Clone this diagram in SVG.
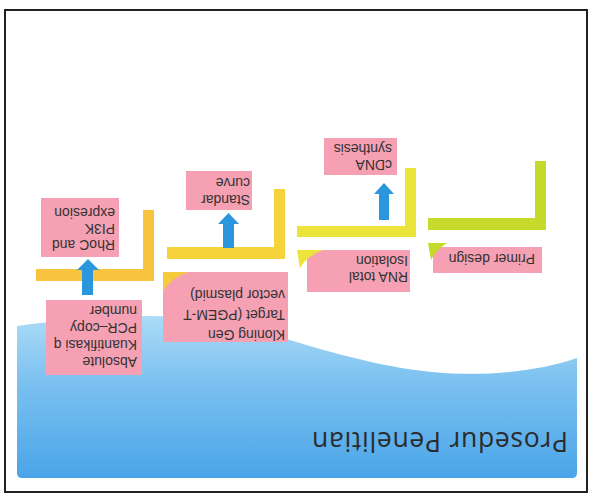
<svg xmlns="http://www.w3.org/2000/svg" width="591" height="502" viewBox="0 0 591 502">
<defs>
<linearGradient id="sea" gradientUnits="userSpaceOnUse" x1="0" y1="24" x2="0" y2="186">
<stop offset="0" stop-color="#4aa5e8"/>
<stop offset="0.6" stop-color="#7cc1f0"/>
<stop offset="1" stop-color="#acdbf7"/>
</linearGradient>
<style>
.box{fill:#f5a1b3}
.t{font-family:"Liberation Sans",Arial,sans-serif;font-size:14px;fill:#333}
.arr{fill:#2a97dc}
</style>
</defs>
<rect x="0" y="0" width="591" height="502" fill="#ffffff"/>
<g transform="rotate(180 295.5 251)">
<rect x="4" y="10" width="582" height="482" fill="none" stroke="#222" stroke-width="2"/>
<path d="M14,144 C60,128 130,122 200,136 C260,148 300,162 340,174 C400,190 470,189 574,176 L574,29 Q574,24 569,24 L19,24 Q14,24 14,29 Z" fill="url(#sea)"/>
<text x="23" y="70" font-family="'Open Sans','Liberation Sans',sans-serif" font-size="26.5" font-weight="500" fill="#2b2b2b" textLength="256" lengthAdjust="spacing">Prosedur Penelitian</text>
<g id="brackets">
<path d="M437,221 H555 V233 H448 V292 H437 Z" fill="#f8c33e"/>
<path d="M306,243 H424 V255 H317 V313 H306 Z" fill="#f6d23b"/>
<path d="M175,265 H294 V276 H186 V334 H175 Z" fill="#ece43a"/>
<path d="M45,272 H163 V284 H56 V341 H45 Z" fill="#c6da2c"/>
</g>
<g id="connectors">
<path class="arr" d="M498,207 H509 V232 H514 L503,243 L492,232 H498 Z"/>
<path class="arr" d="M357,254 H368 V278 H373 L362.5,289 L352,278 H357 Z"/>
<path class="arr" d="M202,282 H212 V308 H217 L207,319 L197,308 H202 Z"/>
</g>
<g id="node-primer">
<rect class="box" x="49" y="229" width="109" height="26"/>
<path d="M163,259 L144,259 Q155,252 160,242 Z" fill="#c6da2c"/>
<text class="t" x="56" y="248" font-size="14.5">Primer design</text>
</g>
<g id="node-rna">
<rect class="box" x="181" y="210" width="103" height="42"/>
<path d="M294,252 L268,252 Q284,246 291,234 Z" fill="#ece43a"/>
<text class="t" x="183" y="230">RNA total<tspan x="183" dy="16">Isolation</tspan></text>
</g>
<g id="node-cdna">
<rect class="box" x="194" y="327" width="73" height="37"/>
<text class="t" x="199" y="342">cDNA<tspan x="199" dy="16">synthesis</tspan></text>
</g>
<g id="node-kloning">
<rect class="box" x="303" y="160" width="125" height="70"/>
<path d="M428,230 L403,230 Q420,224 428,211 Z" fill="#f6cb3b"/>
<text class="t" x="306" y="172" font-size="15.5">Kloning Gen<tspan x="306" dy="20">Target (PGEM-T</tspan><tspan x="306" dy="20">vector plasmid)</tspan></text>
</g>
<g id="node-standar">
<rect class="box" x="339" y="292" width="66" height="39"/>
<text class="t" x="341" y="307">Standar<tspan x="341" dy="17">curve</tspan></text>
</g>
<g id="node-absolute">
<rect class="box" x="449" y="127" width="96" height="75"/>
<text class="t" x="454" y="145">Absolute<tspan x="454" dy="17">Kuantifikasi q</tspan><tspan x="454" dy="17">PCR–copy</tspan><tspan x="454" dy="17">number</tspan></text>
</g>
<g id="node-rhoc">
<rect class="box" x="472" y="245" width="78" height="59"/>
<text class="t" x="476" y="262">RhoC and<tspan x="476" dy="16">PI3K</tspan><tspan x="476" dy="16">expresion</tspan></text>
</g>
</g>
</svg>
